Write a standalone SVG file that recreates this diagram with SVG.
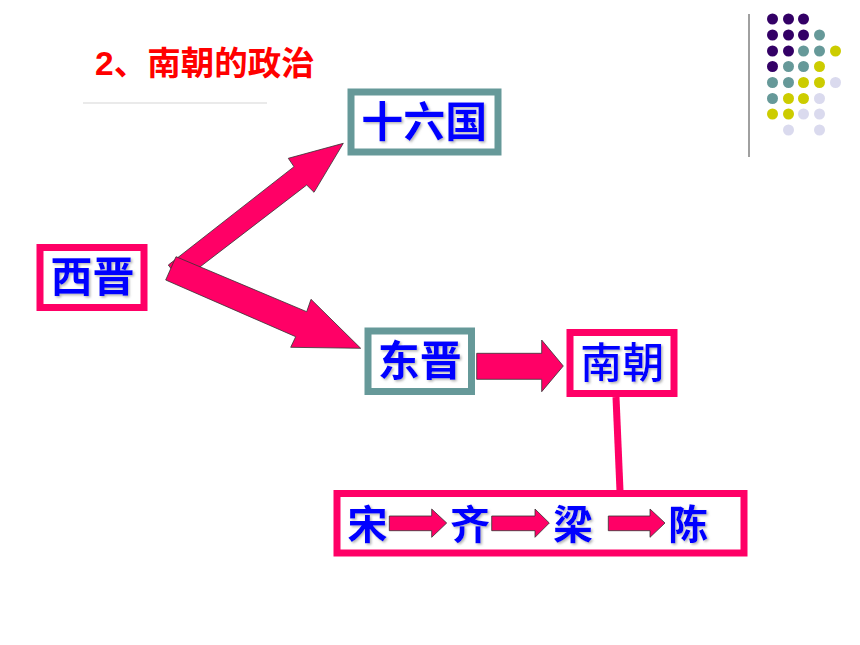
<svg xmlns="http://www.w3.org/2000/svg" width="860" height="645" viewBox="0 0 860 645">
<defs>
<style>
.box-pink{fill:#ffffff;stroke:#ff0066;stroke-width:7}
.box-teal{fill:#ffffff;stroke:#669999;stroke-width:7}
.lbl{font-family:"Noto Sans CJK SC","Liberation Sans",sans-serif;font-weight:bold;fill:#0000ff;text-anchor:middle;filter:url(#sh)}
.arrow{fill:#ff0066;stroke:#333333;stroke-width:0.8;stroke-linejoin:miter}
.pu{fill:#330066}.te{fill:#669999}.ye{fill:#cccc00}.la{fill:#dadaee}
</style>
<filter id="sh" x="-10%" y="-10%" width="130%" height="130%">
<feDropShadow dx="1.5" dy="1.5" stdDeviation="1" flood-color="#808080" flood-opacity="0.6"/>
</filter>
</defs>
<rect width="860" height="645" fill="#ffffff"/>

<g id="decoration">
<line x1="749" y1="14" x2="749" y2="157" stroke="#808080" stroke-width="1.5"/>
<g id="dots">
<circle class="pu" cx="772.5" cy="19" r="5.5"/><circle class="pu" cx="788.5" cy="19" r="5.5"/><circle class="pu" cx="803.5" cy="19" r="5.5"/>
<circle class="pu" cx="772.5" cy="35" r="5.5"/><circle class="pu" cx="788.5" cy="35" r="5.5"/><circle class="pu" cx="803.5" cy="35" r="5.5"/><circle class="te" cx="819.5" cy="35" r="5.5"/>
<circle class="pu" cx="772.5" cy="51" r="5.5"/><circle class="pu" cx="788.5" cy="51" r="5.5"/><circle class="te" cx="803.5" cy="51" r="5.5"/><circle class="te" cx="819.5" cy="51" r="5.5"/><circle class="ye" cx="835.5" cy="51" r="5.5"/>
<circle class="pu" cx="772.5" cy="66.5" r="5.5"/><circle class="te" cx="788.5" cy="66.5" r="5.5"/><circle class="te" cx="803.5" cy="66.5" r="5.5"/><circle class="ye" cx="819.5" cy="66.5" r="5.5"/>
<circle class="te" cx="772.5" cy="82.5" r="5.5"/><circle class="te" cx="788.5" cy="82.5" r="5.5"/><circle class="ye" cx="803.5" cy="82.5" r="5.5"/><circle class="ye" cx="819.5" cy="82.5" r="5.5"/><circle class="la" cx="835.5" cy="82.5" r="5.5"/>
<circle class="te" cx="772.5" cy="98.5" r="5.5"/><circle class="ye" cx="788.5" cy="98.5" r="5.5"/><circle class="ye" cx="803.5" cy="98.5" r="5.5"/><circle class="la" cx="819.5" cy="98.5" r="5.5"/>
<circle class="ye" cx="772.5" cy="114" r="5.5"/><circle class="ye" cx="788.5" cy="114" r="5.5"/><circle class="la" cx="803.5" cy="114" r="5.5"/><circle class="la" cx="819.5" cy="114" r="5.5"/>
<circle class="la" cx="788.5" cy="130" r="5.5"/><circle class="la" cx="819.5" cy="130" r="5.5"/>
</g>
</g>

<g id="title">
<text x="95" y="75" font-family="'Liberation Sans','Noto Sans CJK SC',sans-serif" font-weight="bold" font-size="33.5" fill="#ff0000">2、南朝的政治</text>
<line x1="83" y1="103" x2="267" y2="103" stroke="#e3e3e3" stroke-width="1.5"/>
</g>

<g id="connectors">
<polygon class="arrow" points="181,281.5 168.3,265 294,166.7 288.3,158.3 343.3,143.3 314,192.3 306.7,185"/>
<polygon class="arrow" points="176,256.7 306.7,311.7 311,299.3 360.7,348.3 290.7,347.3 295.7,336.7 165.7,280"/>
<polygon class="arrow" points="476.7,353.3 541.7,353.3 541.7,340 563.3,366 541.7,391.7 541.7,379.3 476.7,379.3"/>
<line x1="616" y1="397" x2="620" y2="491" stroke="#ff0066" stroke-width="7"/>
</g>

<g id="node-xijin">
<rect class="box-pink" x="40" y="247.5" width="104" height="60"/>
<text class="lbl" x="92.5" y="292" font-size="42">西晋</text>
</g>

<g id="node-shiliuguo">
<rect class="box-teal" x="351" y="92" width="147" height="60"/>
<text class="lbl" x="424.3" y="136.5" font-size="42">十六国</text>
</g>

<g id="node-dongjin">
<rect class="box-teal" x="368" y="331" width="103.5" height="60.5"/>
<text class="lbl" x="419.7" y="376" font-size="42">东晋</text>
</g>

<g id="node-nanchao">
<rect class="box-pink" x="570" y="332.5" width="104" height="61"/>
<text class="lbl" x="622.3" y="377.5" font-size="42" font-weight="500" style="font-weight:500">南朝</text>
</g>

<g id="node-dynasties">
<rect class="box-pink" x="337" y="493.5" width="407" height="59.5"/>
<text class="lbl" x="367.5" y="538.5" font-size="40">宋</text>
<text class="lbl" x="470" y="538.5" font-size="40">齐</text>
<text class="lbl" x="573" y="538.5" font-size="40">梁</text>
<text class="lbl" x="688.3" y="538.5" font-size="40">陈</text>
<polygon class="arrow" points="389.3,516 431.7,516 431.7,509 446.7,523 431.7,537.3 431.7,530.7 389.3,530.7"/>
<polygon class="arrow" points="491.7,516 535,516 535,509 549.3,523 535,537.3 535,530.7 491.7,530.7"/>
<polygon class="arrow" points="608.3,516 650,516 650,509 665,523 650,537.3 650,530.7 608.3,530.7"/>
</g>
</svg>
